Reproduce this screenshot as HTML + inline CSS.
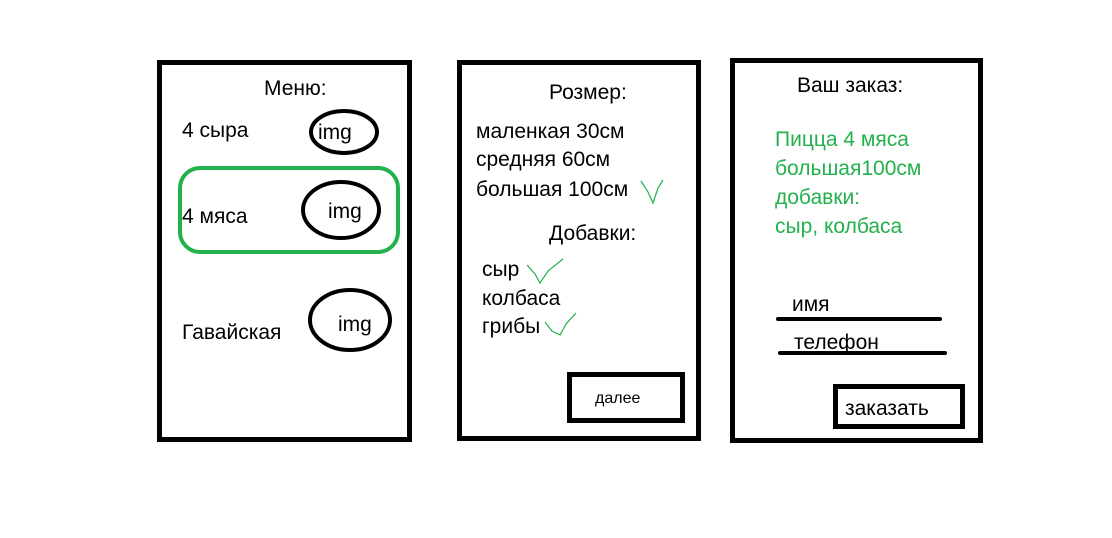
<!DOCTYPE html>
<html><head><meta charset="utf-8"><style>
html,body{margin:0;padding:0;background:#fff;width:1112px;height:538px;overflow:hidden}
svg text{font-family:"Liberation Sans","DejaVu Sans",sans-serif;font-size:21px;fill:#000}
.g{fill:#22b14c!important}
</style></head><body>
<svg width="1112" height="538" viewBox="0 0 1112 538" xmlns="http://www.w3.org/2000/svg">
<g>
<rect x="159.5" y="62.5" width="250" height="377" fill="none" stroke="#000" stroke-width="5"/>
<text x="264" y="95">Меню:</text>
<text x="182" y="137">4 сыра</text>
<ellipse cx="344" cy="132" rx="33" ry="21" fill="none" stroke="#000" stroke-width="4"/>
<text x="318" y="139">img</text>
<rect x="180" y="168" width="218" height="84" rx="20" fill="none" stroke="#22b14c" stroke-width="4"/>
<text x="182" y="223">4 мяса</text>
<ellipse cx="341" cy="210" rx="38" ry="28" fill="none" stroke="#000" stroke-width="4"/>
<text x="328" y="218">img</text>
<text x="182" y="339">Гавайская</text>
<ellipse cx="350" cy="320" rx="40" ry="30" fill="none" stroke="#000" stroke-width="4"/>
<text x="338" y="331">img</text>
</g>
<g>
<rect x="459.5" y="62.5" width="239" height="376" fill="none" stroke="#000" stroke-width="5"/>
<text x="549" y="99">Розмер:</text>
<text x="476" y="138">маленкая 30см</text>
<text x="476" y="166">средняя 60см</text>
<text x="476" y="196">большая 100см</text>
<polyline points="641,181 648,192 653,203 658,188 663,180" fill="none" stroke="#22b14c" stroke-width="1.2"/>
<text x="549" y="240">Добавки:</text>
<text x="482" y="276">сыр</text>
<polyline points="527,265 535,274 540,283 548,271 563,259" fill="none" stroke="#22b14c" stroke-width="1.2"/>
<text x="482" y="305">колбаса</text>
<text x="482" y="333">грибы</text>
<polyline points="545,322 552,331 560,335 566,324 576,313" fill="none" stroke="#22b14c" stroke-width="1.2"/>
<g>
<rect x="569.5" y="374.5" width="113" height="46" fill="none" stroke="#000" stroke-width="5"/>
<text x="595" y="403" style="font-size:16px">далее</text>
</g>
</g>
<g>
<rect x="732.5" y="60.5" width="248" height="380" fill="none" stroke="#000" stroke-width="5"/>
<text x="797" y="92">Ваш заказ:</text>
<text x="775" y="146" class="g">Пицца 4 мяса</text>
<text x="775" y="175" class="g">большая100см</text>
<text x="775" y="204" class="g">добавки:</text>
<text x="775" y="233" class="g">сыр, колбаса</text>
<text x="792" y="311">имя</text>
<line x1="778" y1="319" x2="940" y2="319" stroke="#000" stroke-width="4" stroke-linecap="round"/>
<text x="794" y="349">телефон</text>
<line x1="780" y1="353" x2="945" y2="353" stroke="#000" stroke-width="4" stroke-linecap="round"/>
<g>
<rect x="835.5" y="386.5" width="127" height="40" fill="none" stroke="#000" stroke-width="5"/>
<text x="845" y="415">заказать</text>
</g>
</g>
</svg>
</body></html>
